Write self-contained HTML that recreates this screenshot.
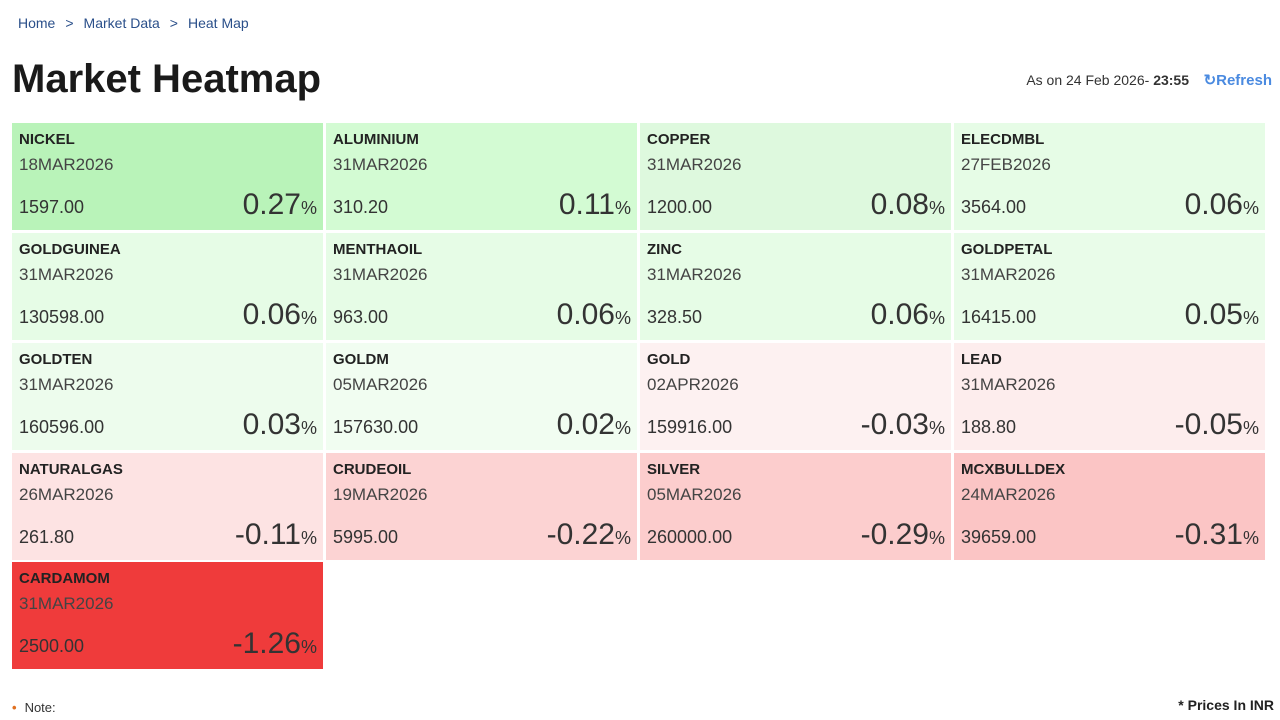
<!DOCTYPE html>
<html><head><meta charset="utf-8"><style>
body{margin:0;width:1280px;height:720px;background:#fff;font-family:"Liberation Sans",sans-serif;color:#222;position:relative;overflow:hidden}
.bc{position:absolute;left:18px;top:15px;font-size:14px;color:#2a4f8a}
.bc span{margin:0 10px}
h1{position:absolute;left:12px;top:57px;margin:0;font-size:40px;font-weight:bold;color:#1a1a1a}
.ason{position:absolute;right:91px;top:72px;font-size:14px;color:#333}
.ref{position:absolute;right:8px;top:71px;font-size:15px;color:#4a8ae0;font-weight:bold}
.c{position:absolute;width:311px;height:107px}
.n{position:absolute;left:7px;top:8px;font-size:15px;font-weight:bold;color:#222}
.d{position:absolute;left:7px;top:32px;font-size:17px;color:#444}
.p{position:absolute;left:7px;top:74px;font-size:18px;color:#333}
.q{position:absolute;right:6px;top:65px;font-size:30px;color:#333;font-weight:300}
.q small{font-size:18px}
.note{position:absolute;left:12px;top:700px;font-size:13px;color:#333}
.note b{color:#e07020;margin-right:8px}
.inr{position:absolute;right:6px;top:697px;font-size:14px;font-weight:bold;color:#222}
</style></head><body>
<div class="bc">Home<span>&gt;</span>Market Data<span>&gt;</span>Heat Map</div>
<h1>Market Heatmap</h1>
<div class="ason">As on 24 Feb 2026- <b>23:55</b></div>
<div class="ref">&#x21bb;Refresh</div>

<div class="c" style="left:12px;top:123px;background:#b9f3b9"><div class="n">NICKEL</div><div class="d">18MAR2026</div><div class="p">1597.00</div><div class="q">0.27<small>%</small></div></div>
<div class="c" style="left:326px;top:123px;background:#d3fbd3"><div class="n">ALUMINIUM</div><div class="d">31MAR2026</div><div class="p">310.20</div><div class="q">0.11<small>%</small></div></div>
<div class="c" style="left:640px;top:123px;background:#def9de"><div class="n">COPPER</div><div class="d">31MAR2026</div><div class="p">1200.00</div><div class="q">0.08<small>%</small></div></div>
<div class="c" style="left:954px;top:123px;background:#e6fce6"><div class="n">ELECDMBL</div><div class="d">27FEB2026</div><div class="p">3564.00</div><div class="q">0.06<small>%</small></div></div>

<div class="c" style="left:12px;top:233px;background:#e6fce6"><div class="n">GOLDGUINEA</div><div class="d">31MAR2026</div><div class="p">130598.00</div><div class="q">0.06<small>%</small></div></div>
<div class="c" style="left:326px;top:233px;background:#e6fce6"><div class="n">MENTHAOIL</div><div class="d">31MAR2026</div><div class="p">963.00</div><div class="q">0.06<small>%</small></div></div>
<div class="c" style="left:640px;top:233px;background:#e6fce6"><div class="n">ZINC</div><div class="d">31MAR2026</div><div class="p">328.50</div><div class="q">0.06<small>%</small></div></div>
<div class="c" style="left:954px;top:233px;background:#e9fce9"><div class="n">GOLDPETAL</div><div class="d">31MAR2026</div><div class="p">16415.00</div><div class="q">0.05<small>%</small></div></div>

<div class="c" style="left:12px;top:343px;background:#edfced"><div class="n">GOLDTEN</div><div class="d">31MAR2026</div><div class="p">160596.00</div><div class="q">0.03<small>%</small></div></div>
<div class="c" style="left:326px;top:343px;background:#f1fdf1"><div class="n">GOLDM</div><div class="d">05MAR2026</div><div class="p">157630.00</div><div class="q">0.02<small>%</small></div></div>
<div class="c" style="left:640px;top:343px;background:#fdf1f1"><div class="n">GOLD</div><div class="d">02APR2026</div><div class="p">159916.00</div><div class="q">-0.03<small>%</small></div></div>
<div class="c" style="left:954px;top:343px;background:#fdeded"><div class="n">LEAD</div><div class="d">31MAR2026</div><div class="p">188.80</div><div class="q">-0.05<small>%</small></div></div>

<div class="c" style="left:12px;top:453px;background:#fde3e3"><div class="n">NATURALGAS</div><div class="d">26MAR2026</div><div class="p">261.80</div><div class="q">-0.11<small>%</small></div></div>
<div class="c" style="left:326px;top:453px;background:#fcd3d3"><div class="n">CRUDEOIL</div><div class="d">19MAR2026</div><div class="p">5995.00</div><div class="q">-0.22<small>%</small></div></div>
<div class="c" style="left:640px;top:453px;background:#fccdcd"><div class="n">SILVER</div><div class="d">05MAR2026</div><div class="p">260000.00</div><div class="q">-0.29<small>%</small></div></div>
<div class="c" style="left:954px;top:453px;background:#fbc5c5"><div class="n">MCXBULLDEX</div><div class="d">24MAR2026</div><div class="p">39659.00</div><div class="q">-0.31<small>%</small></div></div>

<div class="c" style="left:12px;top:562px;background:#ef3b3b"><div class="n">CARDAMOM</div><div class="d">31MAR2026</div><div class="p">2500.00</div><div class="q">-1.26<small>%</small></div></div>

<div class="note"><b>•</b>Note:</div>
<div class="inr">* Prices In INR</div>
</body></html>
